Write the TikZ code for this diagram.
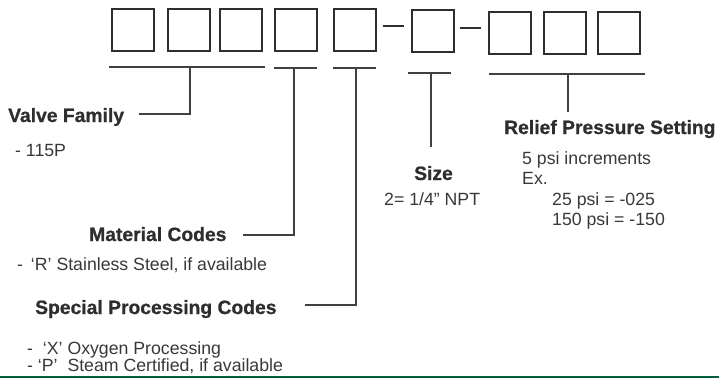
\documentclass[tikz,border=0pt]{standalone}
\usepackage{fontspec}
\setmainfont{Liberation Sans}
\newfontfamily\headfont{Liberation Sans}[BoldFeatures={FakeBold=0.8}]
\definecolor{ink}{HTML}{2E2E2E}
\definecolor{txt}{HTML}{383838}
\definecolor{lin}{HTML}{404040}
\definecolor{bargreen}{HTML}{005E39}
\tikzset{
  codebox/.style={draw=ink, line width=2pt, minimum width=42pt, minimum height=42pt, inner sep=0pt, anchor=north west},
  head/.style={anchor=base west, inner sep=0pt, text=ink, font=\headfont\fontsize{19.3}{22}\selectfont\bfseries},
  body/.style={anchor=base west, inner sep=0pt, text=txt, font=\fontsize{17.7}{20}\selectfont},
  bracket/.style={draw=lin, line width=1.2pt},
  dashline/.style={draw=ink, line width=2pt}
}
\begin{document}
\begin{tikzpicture}[x=1pt,y=-1pt]
\useasboundingbox (0,0) rectangle (719,378);
% code boxes
\node[codebox] (b1) at (111,8) {};
\node[codebox] (b2) at (167,8) {};
\node[codebox] (b3) at (219,8) {};
\node[codebox] (b4) at (274,8) {};
\node[codebox] (b5) at (333,8) {};
\node[codebox] (b6) at (411,9) {};
\node[codebox] (b7) at (488,10.5) {};
\node[codebox] (b8) at (543,10.5) {};
\node[codebox] (b9) at (597,10.5) {};
% dashes between groups
\coordinate (d1a) at (383,26); \coordinate (d1b) at (404,26);
\coordinate (d2a) at (460,28); \coordinate (d2b) at (481,28);
\draw[dashline] (d1a) -- (d1b);
\draw[dashline] (d2a) -- (d2b);
% labels
\node[head] (valve) at (8,122) {Valve Family};
\node[body] (valve1) at (15,156) {- 115P};
\node[head] (mat) at (89,241) {Material Codes};
\node[body] (mat1) at (17,270) {- \,‘R’ Stainless Steel, if available};
\node[head] (spec) at (35,314) {Special Processing Codes};
\node[body] (spec1) at (27,354) {-\ \ ‘X’ Oxygen Processing};
\node[body] (spec2) at (27,371) {- ‘P’\ \ Steam Certified, if available};
\node[head] (size) at (414,180) {Size};
\node[body] (size1) at (384,205) {2= 1/4” NPT};
\node[head] (rel) at (504,134) {Relief Pressure Setting};
\node[body] (rel1) at (522,164) {5 psi increments};
\node[body] (rel2) at (522,184) {Ex.};
\node[body] (rel3) at (552,205) {25 psi = -025};
\node[body] (rel4) at (552,225) {150 psi = -150};
% brackets
\coordinate (v0) at (109,67); \coordinate (v1) at (265,67); \coordinate (vm) at (190,67);
\coordinate (ve) at (139,114);
\draw[bracket] (v0) -- (v1);
\draw[bracket] (vm) |- (ve);
\coordinate (m0) at (274,68); \coordinate (m1) at (317,68); \coordinate (mm) at (294,68);
\coordinate (me) at (243,235);
\draw[bracket] (m0) -- (m1);
\draw[bracket] (mm) |- (me);
\coordinate (s0) at (333,68); \coordinate (s1) at (376,68); \coordinate (sm) at (356,68);
\coordinate (se) at (305,305);
\draw[bracket] (s0) -- (s1);
\draw[bracket] (sm) |- (se);
\coordinate (z0) at (408,73); \coordinate (z1) at (451,73); \coordinate (zm) at (431,73);
\coordinate (ze) at (431,147);
\draw[bracket] (z0) -- (z1);
\draw[bracket] (zm) -- (ze);
\coordinate (r0) at (489,74); \coordinate (r1) at (645,74); \coordinate (rm) at (568,74);
\coordinate (re) at (568,112);
\draw[bracket] (r0) -- (r1);
\draw[bracket] (rm) -- (re);
% green bar
\fill[bargreen] (0,375.5) rectangle (719,378);
\end{tikzpicture}
\end{document}
